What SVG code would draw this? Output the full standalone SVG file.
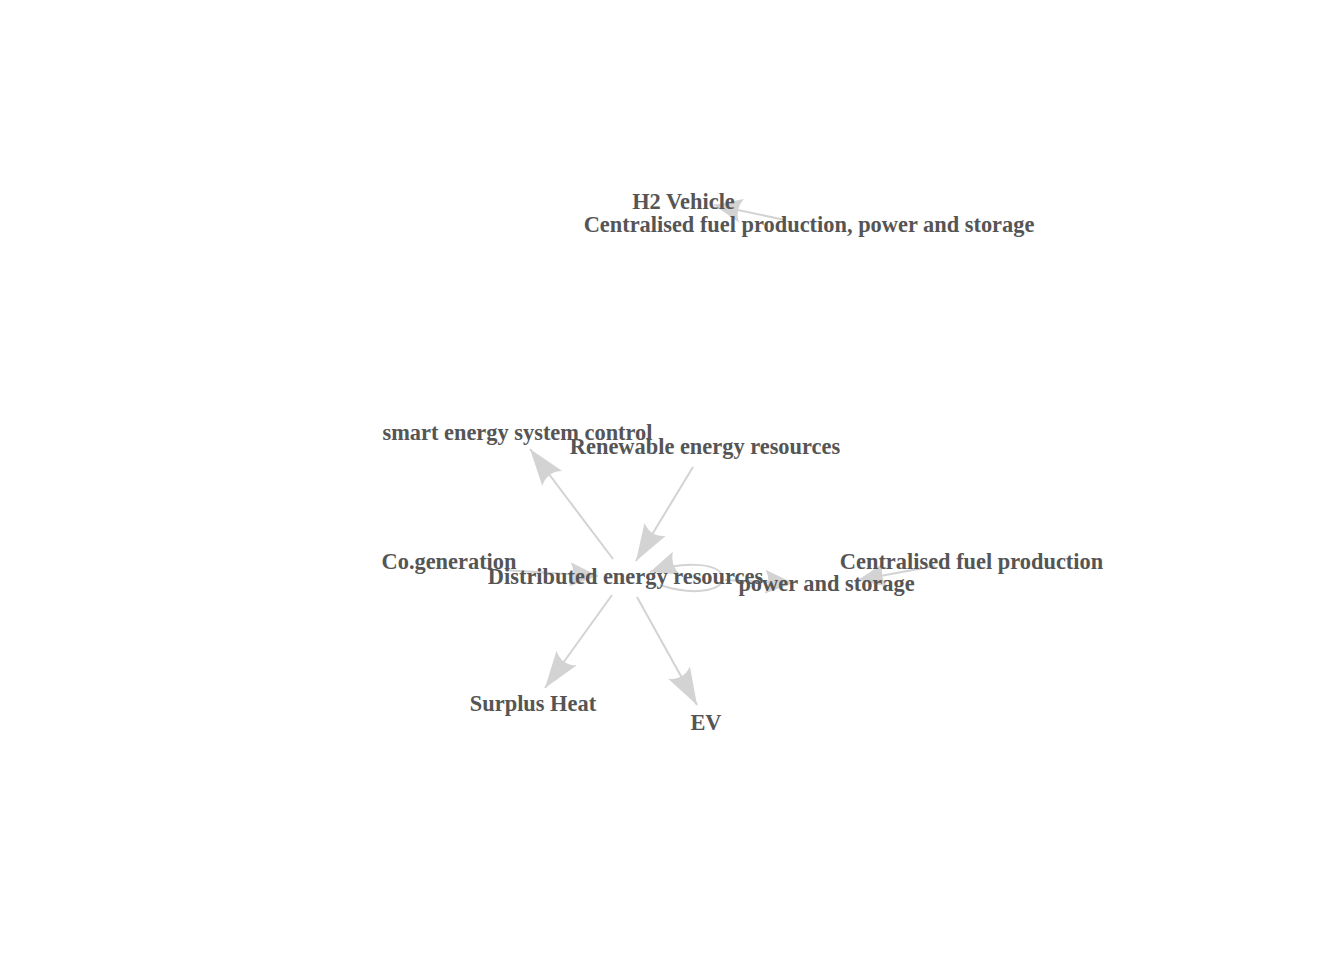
<svg xmlns="http://www.w3.org/2000/svg" width="1344" height="960" viewBox="0 0 1344 960">
<style>
.e{fill:none;stroke:#D3D3D3;stroke-width:2}
.lbl{font-family:"Liberation Serif","Times New Roman",serif;font-weight:bold;font-size:22.4px;fill:#555555;text-anchor:middle}
</style>
<defs>
<marker id="big" markerUnits="userSpaceOnUse" markerWidth="40" markerHeight="30" viewBox="-38 -14 40 28" refX="0" refY="0" orient="auto" overflow="visible">
<path d="M0,0 L-37,-12.5 Q-28,0 -37,12.5 Z" fill="#D3D3D3"/>
</marker>
<marker id="small" markerUnits="userSpaceOnUse" markerWidth="32" markerHeight="30" viewBox="-30 -14 32 28" refX="0" refY="0" orient="auto" overflow="visible">
<path d="M0,0 L-28,-12 Q-21,0 -28,12 Z" fill="#D3D3D3"/>
</marker>
</defs>
<rect width="1344" height="960" fill="#FFFFFF"/>
<g id="edges">
<path class="e" d="M613,559 L530,449" marker-end="url(#big)"/>
<path class="e" d="M693,467 L636,561" marker-end="url(#big)"/>
<path class="e" d="M505,570 L598,576" marker-end="url(#small)"/>
<path class="e" d="M660,585 C700,598 728,588 722,575 C716,562 680,562 650,572" marker-end="url(#small)"/>
<path class="e" d="M725,580 L793,583" marker-end="url(#small)"/>
<path class="e" d="M935,566 L858,580" marker-end="url(#small)"/>
<path class="e" d="M785,220 L714,205" marker-end="url(#small)"/>
<path class="e" d="M612,595 L545,688" marker-end="url(#big)"/>
<path class="e" d="M637,597 L697,705" marker-end="url(#big)"/>
</g>
<g id="n-h2"><text class="lbl" x="683.5" y="209">H2 Vehicle</text></g>
<g id="n-central-all"><text class="lbl" x="809" y="232">Centralised fuel production, power and storage</text></g>
<g id="n-smart"><text class="lbl" x="517.5" y="440">smart energy system control</text></g>
<g id="n-renewable"><text class="lbl" x="705" y="454">Renewable energy resources</text></g>
<g id="n-cogen"><text class="lbl" x="449" y="569">Co.generation</text></g>
<g id="n-distributed"><text class="lbl" x="625.5" y="584">Distributed energy resources</text></g>
<g id="n-central-fuel"><text class="lbl" x="971.5" y="569">Centralised fuel production</text></g>
<g id="n-power"><text class="lbl" x="826.5" y="591">power and storage</text></g>
<g id="n-surplus"><text class="lbl" x="533" y="711">Surplus Heat</text></g>
<g id="n-ev"><text class="lbl" x="706" y="730">EV</text></g>
</svg>
